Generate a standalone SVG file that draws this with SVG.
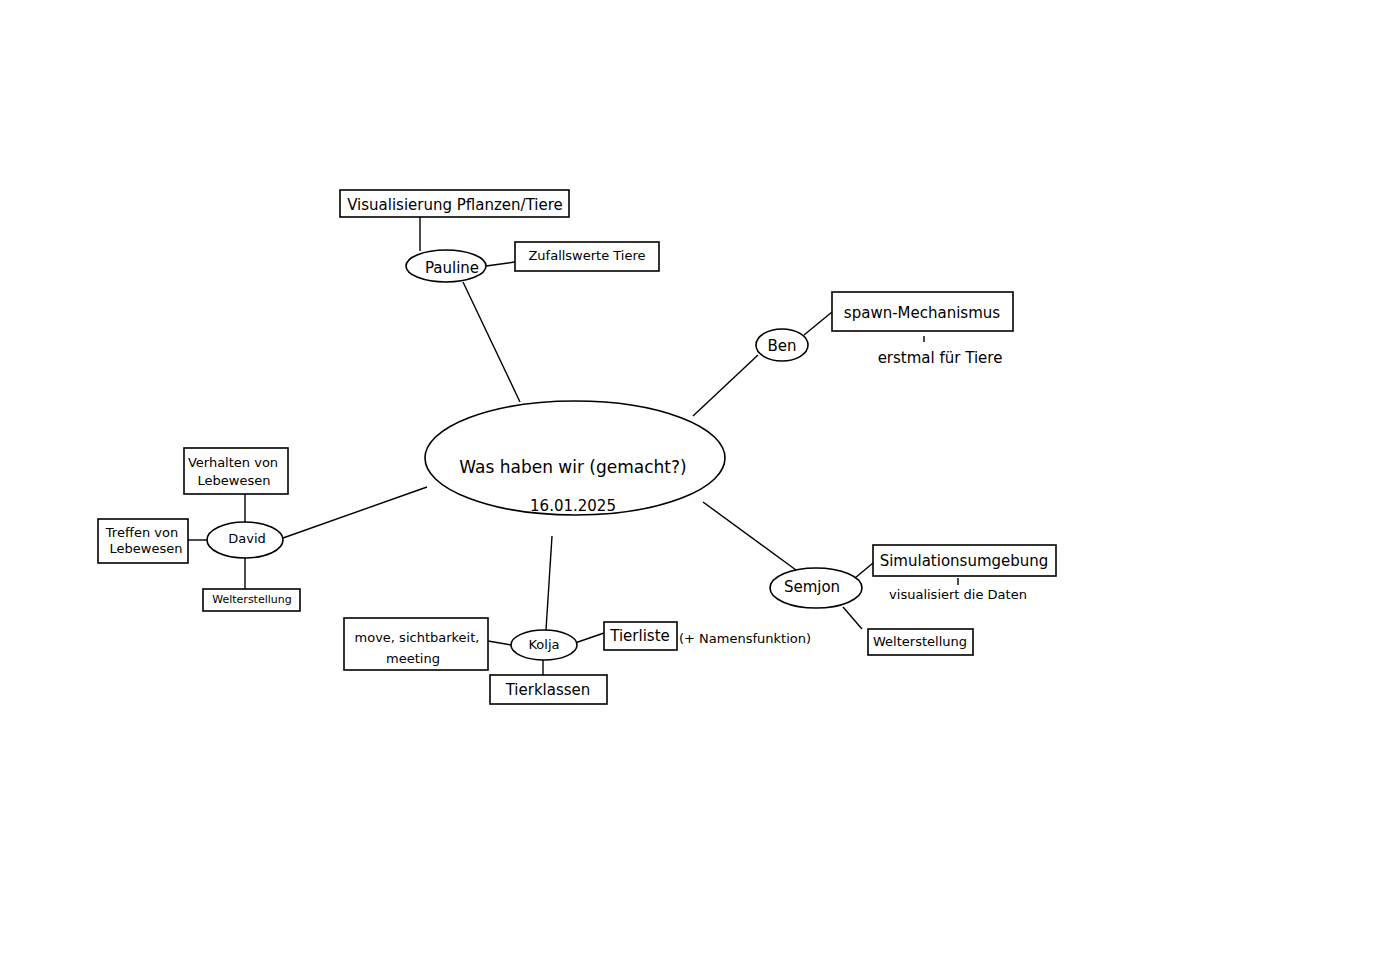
<svg xmlns="http://www.w3.org/2000/svg" width="1386" height="980" viewBox="0 0 1386 980">
<style>
.n{fill:#fff;stroke:#000;stroke-width:1.6}
.c line{stroke:#000;stroke-width:1.4}
text{font-family:"DejaVu Sans",sans-serif;fill:#000;text-anchor:middle;dominant-baseline:middle}
.x{font-size:11px}.s{font-size:13px}.m{font-size:15px}.l{font-size:17px}
</style>
<rect width="1386" height="980" fill="#fff"/>
<g class="c">
<line x1="463" y1="282" x2="520" y2="402"/><line x1="420" y1="217" x2="420" y2="251"/><line x1="486" y1="266" x2="515" y2="262"/>
<line x1="758" y1="355" x2="693" y2="416"/><line x1="804" y1="335" x2="832" y2="312"/><line x1="924" y1="336" x2="924" y2="342"/>
<line x1="703" y1="502" x2="796" y2="570"/><line x1="855" y1="578" x2="873" y2="563"/><line x1="843" y1="607" x2="862" y2="629"/><line x1="958" y1="578" x2="958" y2="585"/>
<line x1="552" y1="536" x2="546" y2="630"/><line x1="511" y1="645" x2="488" y2="641"/><line x1="575" y1="643" x2="604" y2="633"/><line x1="543" y1="660" x2="543" y2="675"/>
<line x1="427" y1="487" x2="283" y2="538"/><line x1="245" y1="494" x2="245" y2="522"/><line x1="188" y1="540" x2="207" y2="540"/><line x1="245" y1="558" x2="245" y2="589"/>
</g>
<g id="center"><ellipse class="n" cx="575" cy="458" rx="150" ry="57"/><text class="l" x="573" y="468">Was haben wir (gemacht?)</text><text class="m" x="573" y="506">16.01.2025</text></g>
<g id="pauline"><ellipse class="n" cx="446" cy="266" rx="40" ry="16"/><text class="m" x="452" y="268">Pauline</text></g>
<g id="visual"><rect class="n" x="340" y="190" width="229" height="27"/><text class="m" x="455" y="205">Visualisierung Pflanzen/Tiere</text></g>
<g id="zufall"><rect class="n" x="515" y="242" width="144" height="29"/><text class="s" x="587" y="256">Zufallswerte Tiere</text></g>
<g id="ben"><ellipse class="n" cx="782" cy="345" rx="26" ry="16"/><text class="m" x="782" y="346">Ben</text></g>
<g id="spawn"><rect class="n" x="832" y="292" width="181" height="39"/><text class="m" x="922" y="313">spawn-Mechanismus</text></g>
<text class="m" x="940" y="358">erstmal für Tiere</text>
<g id="semjon"><ellipse class="n" cx="816" cy="588" rx="46" ry="20"/><text class="m" x="812" y="587">Semjon</text></g>
<g id="sim"><rect class="n" x="873" y="545" width="183" height="31"/><text class="m" x="964" y="561">Simulationsumgebung</text></g>
<text class="s" x="958" y="595">visualisiert die Daten</text>
<g id="welt1"><rect class="n" x="868" y="629" width="105" height="26"/><text class="s" x="920" y="642">Welterstellung</text></g>
<g id="kolja"><ellipse class="n" cx="544" cy="645" rx="33" ry="15"/><text class="s" x="544" y="645">Kolja</text></g>
<g id="move"><rect class="n" x="344" y="618" width="144" height="52"/><text class="s" x="417" y="638">move, sichtbarkeit,</text><text class="s" x="413" y="659">meeting</text></g>
<g id="tierliste"><rect class="n" x="604" y="622" width="73" height="28"/><text class="m" x="640" y="636">Tierliste</text></g>
<text class="s" x="745" y="639">(+ Namensfunktion)</text>
<g id="tierklassen"><rect class="n" x="490" y="675" width="117" height="29"/><text class="m" x="548" y="690">Tierklassen</text></g>
<g id="david"><ellipse class="n" cx="245" cy="540" rx="38" ry="18"/><text class="s" x="247" y="539">David</text></g>
<g id="verhalten"><rect class="n" x="184" y="448" width="104" height="46"/><text class="s" x="233" y="463">Verhalten von</text><text class="s" x="234" y="481">Lebewesen</text></g>
<g id="treffen"><rect class="n" x="98" y="519" width="90" height="44"/><text class="s" x="142" y="533">Treffen von</text><text class="s" x="146" y="549">Lebewesen</text></g>
<g id="welt2"><rect class="n" x="203" y="589" width="97" height="22"/><text class="x" x="252" y="600">Welterstellung</text></g>
</svg>
